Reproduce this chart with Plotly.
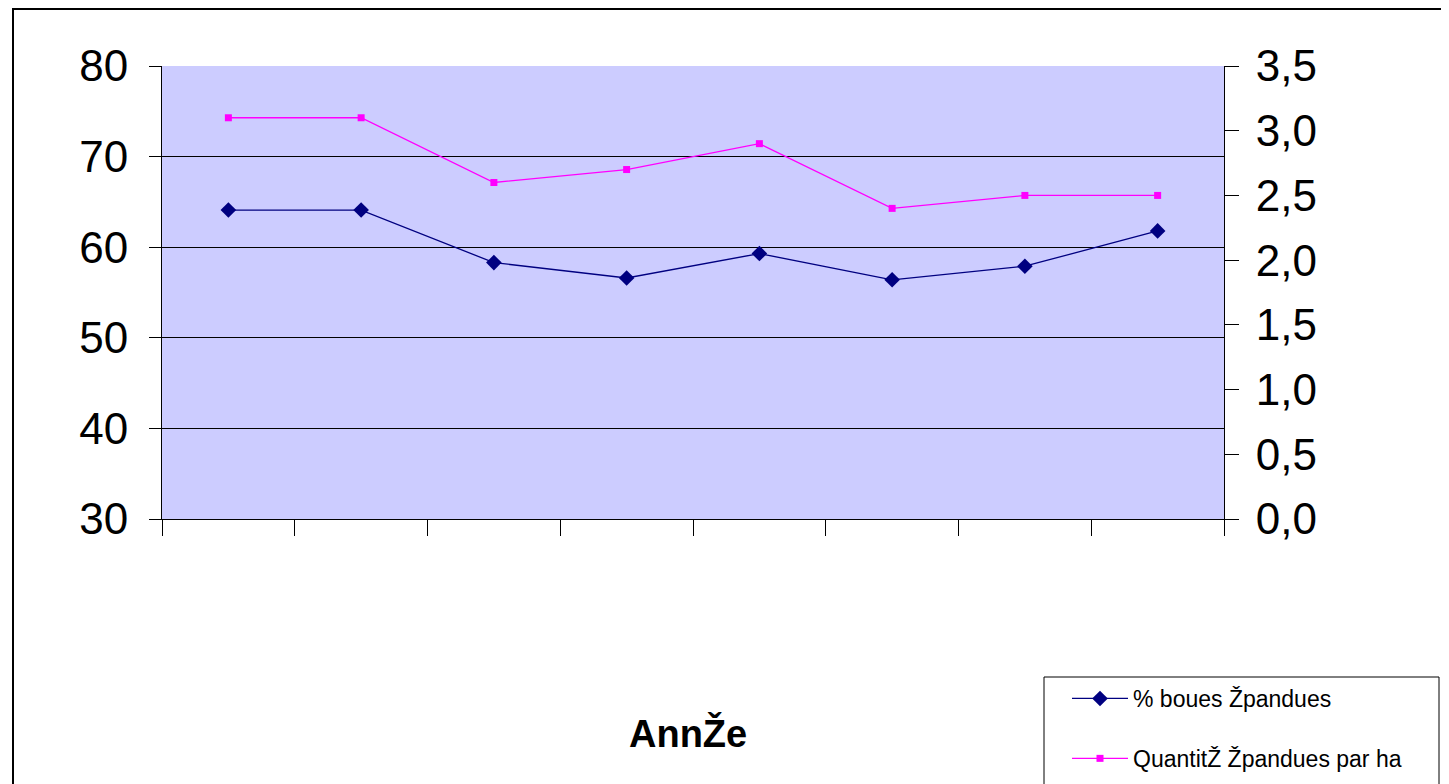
import plotly.graph_objects as go

# ---------------------------------------------------------------------------
# Data
# ---------------------------------------------------------------------------
CATEGORIES = ["1", "2", "3", "4", "5", "6", "7", "8"]
PCT_BOUES = [64.1, 64.1, 58.3, 56.6, 59.3, 56.4, 57.9, 61.8]
QTE_PAR_HA = [3.1, 3.1, 2.6, 2.7, 2.9, 2.4, 2.5, 2.5]

LEFT_TICKS = [30, 40, 50, 60, 70, 80]
RIGHT_TICKS = [0.0, 0.5, 1.0, 1.5, 2.0, 2.5, 3.0, 3.5]

NAME_PCT = "% boues Žpandues"
NAME_QTE = "QuantitŽ Žpandues par ha"
X_TITLE = "AnnŽe"

FONT = "Liberation Sans, Arial, sans-serif"
C_NAVY = "#000080"
C_MAGENTA = "#FF00FF"
C_PLOT_BG = "#CCCCFF"

# the page body has an 8px margin, so the figure starts 8px in;
# keep the figure at full window size (the overflow is off screen)
BODY = 8
W, H = 1449, 784
M_L, M_T = 162 - BODY, 66 - BODY
M_R, M_B = W - (1224 - BODY), H - (519 - BODY)
PW = W - M_L - M_R
PH = H - M_T - M_B


def px_to_paper_x(px):
    return (px - BODY - M_L) / PW


def px_to_paper_y(py):
    return (H - M_B - (py - BODY)) / PH


fig = go.Figure()

fig.add_trace(go.Scatter(
    x=CATEGORIES, y=PCT_BOUES,
    mode="lines+markers",
    name=NAME_PCT,
    legendgroup="a",
    line=dict(color=C_NAVY, width=1.3),
    marker=dict(symbol="diamond", size=12, color=C_NAVY),
    yaxis="y",
))

fig.add_trace(go.Scatter(
    x=CATEGORIES, y=QTE_PAR_HA,
    mode="lines+markers",
    name=NAME_QTE,
    legendgroup="b",
    line=dict(color=C_MAGENTA, width=1.3),
    marker=dict(symbol="square", size=7, color=C_MAGENTA),
    yaxis="y2",
))

fig.update_layout(
    width=W, height=H,
    margin=dict(l=M_L, r=M_R, t=M_T, b=M_B),
    paper_bgcolor="white",
    plot_bgcolor=C_PLOT_BG,
    separators=", ",
    font=dict(family=FONT, color="black", size=22),
    xaxis=dict(
        type="category",
        categoryorder="array", categoryarray=CATEGORIES,
        range=[-0.5, len(CATEGORIES) - 0.5],
        tickson="boundaries",
        ticks="outside", ticklen=16, tickcolor="black", tickwidth=1,
        showticklabels=False,
        showgrid=False, zeroline=False,
        showline=True, linecolor="black", linewidth=1,
    ),
    yaxis=dict(
        range=[LEFT_TICKS[0], LEFT_TICKS[-1]],
        tickvals=LEFT_TICKS,
        ticks="outside", ticklen=12, tickcolor="black",
        ticklabelstandoff=12,
        tickfont=dict(size=44),
        showgrid=True, gridcolor="black", gridwidth=1,
        zeroline=False,
        showline=True, linecolor="black", linewidth=1,
    ),
    yaxis2=dict(
        overlaying="y", side="right",
        range=[RIGHT_TICKS[0], RIGHT_TICKS[-1]],
        tickvals=RIGHT_TICKS,
        tickformat=".1f",
        ticks="outside", ticklen=14, tickcolor="black",
        ticklabelstandoff=8,
        tickfont=dict(size=44),
        showgrid=False, zeroline=False,
        showline=True, linecolor="black", linewidth=1,
    ),
    showlegend=True,
    legend=dict(
        x=px_to_paper_x(1067), y=px_to_paper_y(677),
        xanchor="left", yanchor="top",
        bgcolor="rgba(0,0,0,0)",
        borderwidth=0,
        font=dict(size=23),
        itemwidth=56,
        tracegroupgap=27,
    ),
    annotations=[
        dict(
            text=f"<b>{X_TITLE}</b>",
            x=px_to_paper_x(688), y=px_to_paper_y(733),
            xref="paper", yref="paper",
            xanchor="center", yanchor="middle",
            showarrow=False,
            font=dict(size=38),
        ),
    ],
    shapes=[
        # outer chart frame
        dict(
            type="rect", xref="paper", yref="paper",
            x0=px_to_paper_x(13), x1=px_to_paper_x(1446),
            y0=px_to_paper_y(800), y1=px_to_paper_y(BODY + 1),
            line=dict(color="black", width=2),
            fillcolor="rgba(0,0,0,0)", layer="below",
        ),
        # legend frame
        dict(
            type="rect", xref="paper", yref="paper",
            x0=px_to_paper_x(1044), x1=px_to_paper_x(1439),
            y0=px_to_paper_y(800), y1=px_to_paper_y(677),
            line=dict(color="black", width=1),
            fillcolor="white", layer="below",
        ),
    ],
)

fig.write_html("out.html")
